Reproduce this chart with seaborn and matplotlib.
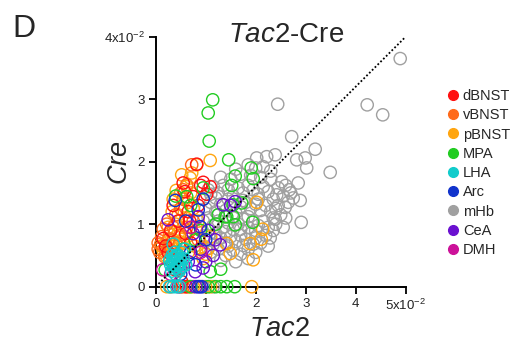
import matplotlib
matplotlib.use("Agg")
import matplotlib.pyplot as plt
from matplotlib.lines import Line2D
import seaborn as sns
import pandas as pd

sns.set_style("white")
plt.rcParams['font.family'] = ['Liberation Sans', 'DejaVu Sans']
plt.rcParams['mathtext.fontset'] = 'custom'
plt.rcParams['mathtext.rm'] = 'Liberation Sans'
plt.rcParams['mathtext.it'] = 'Liberation Sans:italic'

regions = ["dBNST", "vBNST", "pBNST", "MPA", "LHA", "Arc", "mHb", "CeA", "DMH"]
colors = {"dBNST": "#FF1010", "vBNST": "#FF6A1A", "pBNST": "#FFA510", "MPA": "#22CC22",
          "LHA": "#11CCCC", "Arc": "#1133CC", "mHb": "#A0A0A0", "CeA": "#6A10D0", "DMH": "#CC1199"}

mhb_x = [4.89, 2.44, 4.23, 4.54, 2.72, 3.19, 2.99, 2.82, 3.02, 3.49, 2.85, 2.89, 2.91, 2.39, 2.29, 2.59, 2.67, 2.39, 2.22, 2.02, 2.15, 2.52, 2.42,
         1.05, 1.15, 1.25, 1.35, 1.45, 1.55, 1.65, 1.75, 1.85, 1.95, 2.05, 2.15, 2.25, 2.35, 2.45, 2.55, 2.65, 2.75,
         1.0, 1.1, 1.2, 1.3, 1.4, 1.5, 1.6, 1.7, 1.8, 1.9, 2.0, 2.1, 2.2, 2.3, 2.4, 2.5, 2.6,
         0.95, 1.05, 1.15, 1.25, 1.35, 1.45, 1.55, 1.65, 1.75, 1.85, 1.95, 2.05, 2.15, 2.25, 2.35,
         1.0, 1.1, 1.2, 1.3, 1.4, 1.5, 1.6, 1.7, 1.8, 1.9, 2.0, 2.1, 2.2,
         1.1, 1.25, 1.4, 1.55, 1.7, 1.85, 2.0, 1.3, 1.6, 1.85,
         1.3, 1.5, 1.7, 1.9, 2.1, 2.3, 2.0, 1.85, 2.3, 2.6, 2.7, 2.45, 1.6, 1.2, 1.1,
         1.45, 1.75, 2.05, 1.25, 1.55, 1.85, 2.35, 1.4, 1.7, 2.0, 1.15, 1.45, 1.75, 2.4, 2.55, 2.25, 1.95, 0.9, 0.95, 1.0,
         0.95, 1.15]
mhb_y = [3.65, 2.92, 2.91, 2.75, 2.40, 2.20, 2.06, 2.03, 1.90, 1.83, 1.66, 1.38, 1.03, 1.08, 0.78, 1.27, 1.55, 2.11, 2.08, 2.06, 1.92, 1.68, 1.47,
         1.55, 1.60, 1.50, 1.62, 1.55, 1.45, 1.58, 1.50, 1.62, 1.55, 1.48, 1.60, 1.52, 1.40, 1.30, 1.45, 1.35, 1.42,
         1.25, 1.35, 1.20, 1.32, 1.22, 1.30, 1.18, 1.28, 1.35, 1.25, 1.32, 1.22, 1.30, 1.20, 1.25, 1.15, 1.10,
         1.05, 1.10, 0.98, 1.05, 0.95, 1.02, 0.92, 1.00, 1.08, 0.95, 1.05, 0.98, 1.05, 0.95, 0.90,
         0.82, 0.75, 0.85, 0.78, 0.70, 0.80, 0.72, 0.82, 0.76, 0.85, 0.78, 0.70, 0.82,
         0.55, 0.60, 0.50, 0.58, 0.52, 0.60, 0.55, 0.42, 0.40, 0.45,
         1.75, 1.72, 1.80, 1.78, 1.75, 1.72, 1.90, 1.95, 1.85, 1.62, 1.50, 1.58, 1.88, 1.42, 1.48,
         1.40, 1.38, 1.40, 1.15, 1.10, 1.12, 1.10, 0.88, 0.92, 0.90, 0.68, 0.65, 0.66, 1.00, 0.95, 0.65, 0.68, 0.95, 1.40, 0.60,
         0.0, 0.0]

dbnst_x = [0.82, 0.95, 1.09, 0.55, 0.75, 0.15, 0.39, 0.52, 0.65, 0.45, 0.30, 0.60, 0.85, 0.20, 0.50, 0.35, 0.70, 1.02,
           0.58, 0.68, 0.25, 0.90, 0.50, 0.62]
dbnst_y = [1.96, 1.67, 1.60, 1.66, 1.44, 0.77, 0.27, 0.08, 1.20, 1.05, 0.90, 0.85, 1.30, 0.65, 0.30, 1.30, 0.70, 1.48,
           1.52, 1.05, 0.55, 1.62, 0.0, 0.0]

vbnst_x = [0.72, 0.62, 0.12, 0.10, 0.19, 0.25, 0.08, 0.30, 0.40, 0.50, 0.55, 0.35, 0.62, 0.45, 0.15, 0.05, 0.75, 0.85,
           0.22, 0.40, 0.48, 0.05, 0.18, 0.30, 0.55, 0.55, 0.68]
vbnst_y = [1.95, 1.63, 0.80, 0.68, 0.62, 0.75, 0.55, 0.58, 0.70, 1.25, 1.40, 0.95, 0.95, 0.50, 0.92, 0.70, 1.05, 0.75,
           1.00, 1.15, 0.82, 0.60, 0.48, 0.0, 1.55, 0.0, 0.0]

pbnst_x = [1.09, 0.82, 0.41, 0.69, 0.52, 0.52, 0.49, 1.05, 1.89, 1.95, 1.42, 1.49, 2.02, 2.14, 2.11, 0.72, 0.30, 0.25, 0.35, 0.40,
           0.20, 0.45, 0.55, 0.60, 0.65, 0.35, 0.75, 0.30, 0.55, 0.20, 0.85, 1.10, 0.95, 0.40, 0.15, 0.50, 0.62,
           0.28, 0.38, 0.48, 0.58, 0.68, 0.78, 0.12, 0.25, 0.45, 0.65, 0.33, 0.70, 0.80, 0.90, 1.00,
           0.22, 0.60, 0.75, 1.00, 1.10, 1.92]
pbnst_y = [2.02, 1.95, 1.54, 1.74, 1.79, 1.23, 0.68, 0.61, 0.69, 0.43, 0.69, 0.53, 1.35, 0.92, 0.76, 1.82, 0.65, 0.55, 0.75, 0.60,
           0.50, 0.85, 0.95, 1.10, 0.55, 1.40, 1.25, 0.45, 0.70, 0.70, 1.05, 0.80, 0.45, 1.00, 0.58, 1.50, 1.60,
           0.85, 0.88, 0.72, 0.80, 0.90, 0.65, 0.65, 0.95, 1.15, 1.35, 1.20, 1.50, 0.95, 0.62, 0.52,
           0.0, 0.0, 0.0, 0.0, 0.0, 0.0]

mpa_x = [1.14, 1.05, 1.07, 1.46, 1.59, 1.91, 1.95, 1.52, 1.72, 1.55, 1.42, 1.55, 1.59, 1.94, 0.95, 0.62, 1.25, 1.39, 0.79, 1.30,
         1.09, 0.19, 0.40, 0.70, 1.20, 0.90, 0.55, 0.70, 1.05, 1.20, 1.30, 1.42, 1.58]
mpa_y = [2.99, 2.78, 2.33, 2.03, 1.77, 1.90, 1.73, 1.62, 1.34, 1.31, 1.12, 1.12, 0.99, 1.03, 1.58, 1.44, 1.15, 1.12, 0.75, 0.28,
         0.24, 0.27, 1.45, 1.30, 1.00, 0.90, 0.60, 0.0, 0.0, 0.0, 0.0, 0.0, 0.0]

lha_x = [0.30, 0.35, 0.40, 0.45, 0.50, 0.38, 0.42, 0.48, 0.32, 0.55, 0.28, 0.36, 0.44, 0.52, 0.40, 0.33, 0.46, 0.58, 0.35, 0.60,
         0.38, 0.43, 0.49, 0.34, 0.41, 0.47, 0.53, 0.37, 0.28, 0.35, 0.42, 0.48]
lha_y = [0.35, 0.45, 0.40, 0.50, 0.38, 0.55, 0.30, 0.28, 0.25, 0.45, 0.42, 0.35, 0.42, 0.55, 0.20, 0.50, 0.36, 0.60, 0.68, 0.35,
         0.47, 0.34, 0.44, 0.39, 0.49, 0.25, 0.32, 0.29, 0.0, 0.0, 0.0, 0.0]

arc_x = [0.39, 0.89, 0.85, 0.60, 0.70, 0.95, 0.80, 0.50, 1.00, 0.85, 0.92]
arc_y = [1.38, 0.96, 1.23, 1.05, 0.55, 1.40, 0.35, 0.20, 0.75, 0.0, 0.0]

cea_x = [0.25, 1.19, 1.29, 1.59, 0.79, 1.35, 0.90, 1.05, 0.65, 0.95, 1.15, 0.75, 1.50, 0.85, 1.00, 0.80, 0.88]
cea_y = [1.07, 0.75, 0.67, 1.36, 0.24, 1.31, 0.60, 0.90, 0.40, 0.30, 0.50, 0.85, 1.30, 1.12, 0.40, 0.0, 0.0]

dmh_x = [0.14, 0.55, 0.70, 0.90, 0.30, 0.45]
dmh_y = [0.27, 0.35, 0.95, 0.55, 0.20, 0.0]

draw_order = [("mHb", mhb_x, mhb_y), ("pBNST", pbnst_x, pbnst_y), ("vBNST", vbnst_x, vbnst_y),
              ("dBNST", dbnst_x, dbnst_y), ("MPA", mpa_x, mpa_y), ("CeA", cea_x, cea_y),
              ("Arc", arc_x, arc_y), ("DMH", dmh_x, dmh_y), ("LHA", lha_x, lha_y)]

frames = [pd.DataFrame({"region": r, "Tac2": xs, "Cre": ys}) for r, xs, ys in draw_order]
df = pd.concat(frames, ignore_index=True)

fig = plt.figure(figsize=(5.13, 3.41), dpi=100)
ax = fig.add_axes([155.7 / 513, 1 - 286.7 / 341, 250 / 513, 250 / 341])

sns.scatterplot(data=df, x="Tac2", y="Cre", hue="region", palette=colors, s=78,
                linewidth=1.0, legend=False, ax=ax, clip_on=False, zorder=3)
coll = ax.collections[0]
fc = coll.get_facecolors()
coll.set_edgecolors(fc)
coll.set_facecolors("none")
coll.set_linewidths(1.0)

sns.lineplot(x=[0.0, 5.0], y=[0.0, 4.0], ax=ax, color="black", linestyle=(0, (1, 1.2)),
             linewidth=1.3, zorder=4)

ax.set_xlim(0, 5)
ax.set_ylim(0, 4)
xticks = [0, 1, 2, 3, 4, 5]
yticks = [0, 1, 2, 3, 4]
xticklabels = ["0", "1", "2", "3", "4", r"5x10$^{-2}$"]
yticklabels = ["0", "1", "2", "3", r"4x10$^{-2}$"]
ax.set_xticks(xticks)
ax.set_xticklabels(xticklabels)
ax.set_yticks(yticks)
ax.set_yticklabels(yticklabels)
ax.tick_params(axis="both", which="major", bottom=True, left=True, direction="out", length=5,
               width=1.3, labelsize=9.5, pad=3, color="black", labelcolor="#222222")
for side in ["top", "right"]:
    ax.spines[side].set_visible(False)
for side in ["left", "bottom"]:
    ax.spines[side].set_linewidth(1.4)
    ax.spines[side].set_color("black")
ax.set_xlabel("")
ax.set_ylabel("")

fig.text(279 / 513, 1 - 336 / 341, r"$\mathit{Tac2}$", fontsize=19.5, ha="center", va="baseline")
fig.text(120 / 513, 1 - 163 / 341, r"$\mathit{Cre}$", fontsize=19.5, ha="center", va="center", rotation=90)
fig.text(286 / 513, 1 - 42 / 341, r"$\mathit{Tac2}$-Cre", fontsize=20, ha="center", va="baseline")
fig.text(12 / 513, 1 - 37 / 341, "D", fontsize=23, ha="left", va="baseline")

handles = [Line2D([0], [0], marker="o", linestyle="none", markersize=7,
                  markerfacecolor=colors[r], markeredgecolor=colors[r]) for r in regions]
fig.legend(handles, regions, loc="upper left", bbox_to_anchor=(446 / 513, 1 - 89 / 341),
           frameon=False, fontsize=10.5, handletextpad=0.25, labelspacing=0.36,
           handlelength=0.9, borderpad=0, borderaxespad=0)

fig.savefig("out.png", dpi=100)
